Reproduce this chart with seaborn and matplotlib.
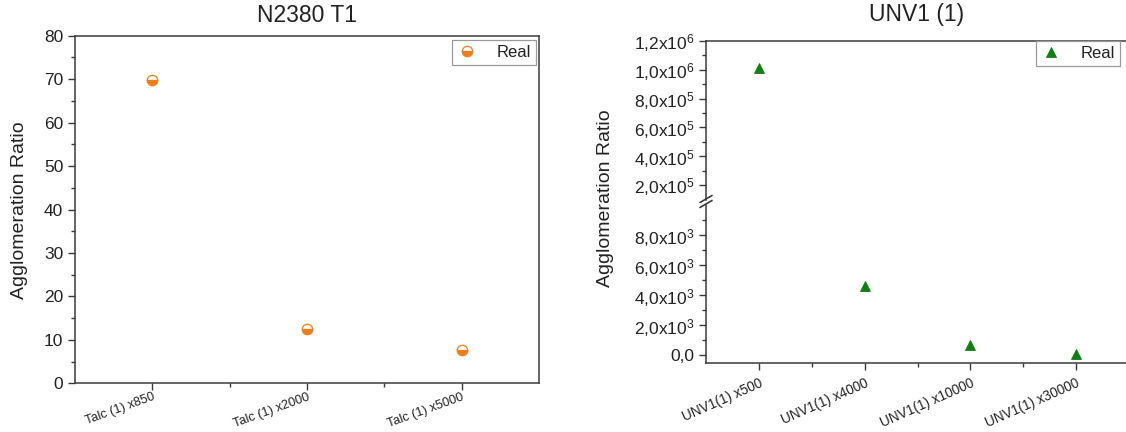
import numpy as np
import pandas as pd
import matplotlib
matplotlib.use("Agg")
import matplotlib.pyplot as plt
from matplotlib.ticker import MultipleLocator, FixedLocator, FuncFormatter
import seaborn as sns

# ---- data -------------------------------------------------------------
talc_labels = ["Talc (1) x850", "Talc (1) x2000", "Talc (1) x5000"]
talc_ratio = [69.8, 12.5, 7.7]

unv_labels = ["UNV1(1) x500", "UNV1(1) x4000", "UNV1(1) x10000", "UNV1(1) x30000"]
unv_ratio = [1.015e6, 4620, 690, 80]

left_title = "N2380 T1"
right_title = "UNV1 (1)"
y_label = "Agglomeration Ratio"
legend_label = "Real"

# ---- style ------------------------------------------------------------
sns.set_style("ticks")
plt.rcParams["font.family"] = ["Liberation Sans", "DejaVu Sans"]
plt.rcParams["mathtext.fontset"] = "custom"
plt.rcParams["mathtext.rm"] = "Liberation Sans"
plt.rcParams["mathtext.it"] = "Liberation Sans"

TXT = "#222222"
AXC = "#3a3a3a"
ORANGE = "#f07d1a"
GREEN = "#0f7f12"

W, H = 1126, 432
fig = plt.figure(figsize=(W / 100, H / 100), dpi=100)


def px_axes(x0, y_top, x1, y_bot):
    return fig.add_axes([x0 / W, (H - y_bot) / H, (x1 - x0) / W, (y_bot - y_top) / H])


def style_axis(ax):
    for s in ax.spines.values():
        s.set_color(AXC)
        s.set_linewidth(1.1)
    ax.tick_params(which="major", direction="out", length=5, width=1.0,
                   color=AXC, labelcolor=TXT, labelsize=12.5)
    ax.tick_params(which="minor", direction="out", length=3, width=1.0, color=AXC)
    ax.tick_params(axis="x", which="major", labelsize=9.2, pad=0.5)


def tilt(ax, angle):
    for t in ax.get_xticklabels():
        t.set_rotation(angle)
        t.set_ha("right")
        t.set_rotation_mode("anchor")


# ---- left panel -------------------------------------------------------
df_talc = pd.DataFrame({"sample": talc_labels, "ratio": talc_ratio})
axL = px_axes(75, 35.7, 539, 383.3)
sns.pointplot(data=df_talc, x="sample", y="ratio", ax=axL, color=ORANGE,
              markers="o", linestyles="none", errorbar=None,
              markersize=7.5, markeredgewidth=0.9, fillstyle="bottom",
              markerfacecoloralt="white", markeredgecolor=ORANGE)
axL.set_xlim(-0.5, 2.5)
axL.set_ylim(0, 80)
axL.yaxis.set_major_locator(MultipleLocator(10))
axL.yaxis.set_minor_locator(MultipleLocator(5))
axL.xaxis.set_minor_locator(FixedLocator([0.5, 1.5]))
axL.set_xlabel("")
axL.set_ylabel("")
style_axis(axL)
tilt(axL, 20)
axL.legend(handles=axL.lines[:1], labels=[legend_label], loc="upper right",
           bbox_to_anchor=(1 - 3 / 464, 1 - 4 / 347.6), borderaxespad=0,
           fancybox=False, edgecolor="#9a9a9a", framealpha=1, fontsize=12,
           handlelength=1.2, handletextpad=1.2, borderpad=0.3,
           labelcolor=TXT).get_frame().set_linewidth(0.9)
fig.text(307, H - 15, left_title, transform=None, ha="center", va="center",
         fontsize=16.5, color=TXT)
fig.text(20, H - 210, y_label, transform=None, ha="center", va="center",
         rotation=90, fontsize=14, color=TXT)

# ---- right panel (broken y axis) -------------------------------------
df_unv = pd.DataFrame({"sample": unv_labels, "ratio": unv_ratio})
axU = px_axes(706, 41, 1129, 199.5)
axB = px_axes(706, 205.3, 1129, 363.3)
for ax in (axU, axB):
    sns.pointplot(data=df_unv, x="sample", y="ratio", ax=ax, color=GREEN,
                  markers="^", linestyles="none", errorbar=None,
                  markersize=7, markeredgewidth=0.6, markeredgecolor=GREEN)
    ax.set_xlim(-0.5, 3.5)
    ax.set_xlabel("")
    ax.set_ylabel("")
    style_axis(ax)


def sci_fmt(v, _):
    if v == 0:
        return "0,0"
    e = int(np.floor(np.log10(abs(v)) + 1e-9))
    m = v / 10 ** e
    return (f"{m:.1f}".replace(".", ",")) + r"x10$^{" + str(e) + "}$"


axU.set_ylim(1e5, 1.2e6)
axU.yaxis.set_major_locator(FixedLocator([2e5, 4e5, 6e5, 8e5, 1.0e6, 1.2e6]))
axU.yaxis.set_minor_locator(FixedLocator([3e5, 5e5, 7e5, 9e5, 1.1e6]))
axU.yaxis.set_major_formatter(FuncFormatter(sci_fmt))
axU.spines["bottom"].set_visible(False)
axU.tick_params(axis="x", which="both", bottom=False, labelbottom=False)

axB.set_ylim(-533, 1e4)
axB.yaxis.set_major_locator(FixedLocator([0, 2e3, 4e3, 6e3, 8e3]))
axB.yaxis.set_minor_locator(FixedLocator([1e3, 3e3, 5e3, 7e3, 9e3]))
axB.yaxis.set_major_formatter(FuncFormatter(sci_fmt))
axB.xaxis.set_minor_locator(FixedLocator([0.5, 1.5, 2.5]))
axB.spines["top"].set_visible(False)
axB.tick_params(axis="x", which="major", labelsize=9.8, pad=4)
tilt(axB, 24)

# break marks on the left spine
for dy in (-2.5, 2.5):
    fig.add_artist(plt.Line2D([700 / W, 712 / W],
                              [(H - 205 + dy) / H, (H - 198 + dy) / H],
                              color=AXC, lw=1.2))

axU.legend(handles=axU.lines[:1], labels=[legend_label], loc="upper right",
           bbox_to_anchor=((1120 - 706) / 423, 1.0), borderaxespad=0,
           fancybox=False, edgecolor="#9a9a9a", framealpha=1, fontsize=12,
           handlelength=1.2, handletextpad=1.2, borderpad=0.3,
           labelcolor=TXT).get_frame().set_linewidth(0.9)
fig.text(917, H - 15, right_title, transform=None, ha="center", va="center",
         fontsize=16.5, color=TXT)
fig.text(605, H - 198, y_label, transform=None, ha="center", va="center",
         rotation=90, fontsize=14, color=TXT)

fig.savefig("out.png", dpi=100)
